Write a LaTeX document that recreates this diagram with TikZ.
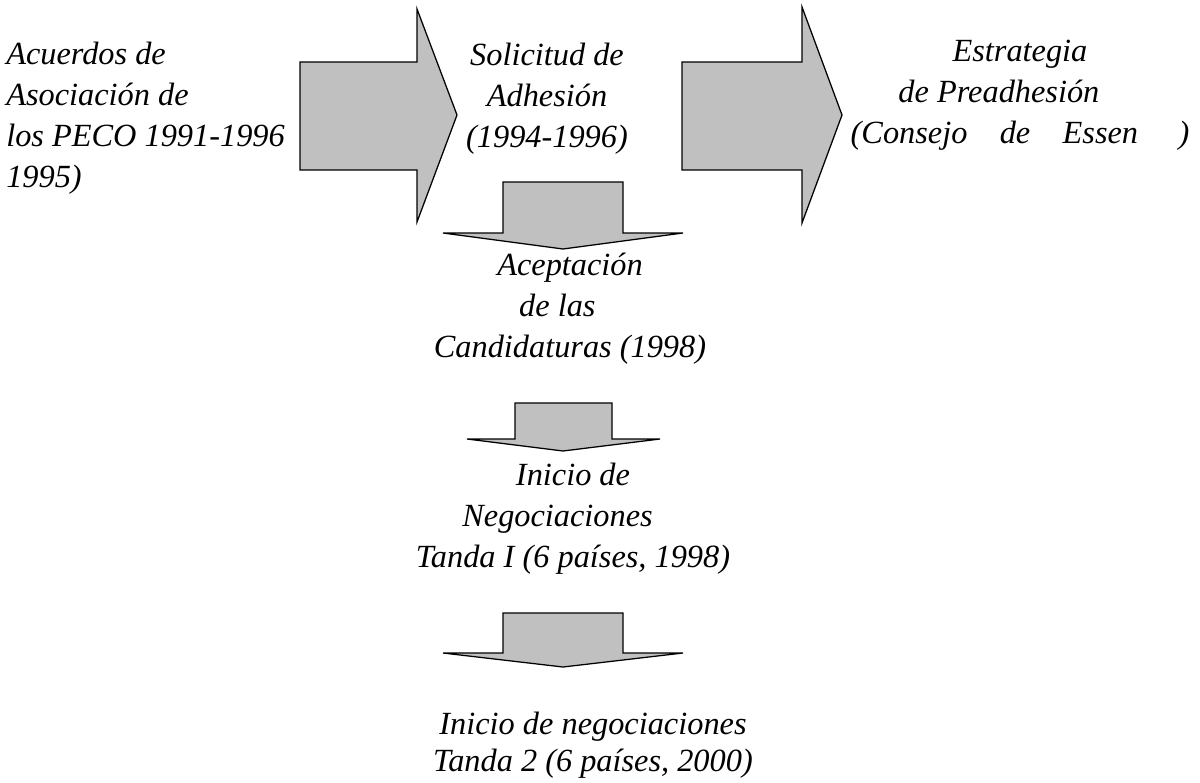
\documentclass[tikz,border=0pt]{standalone}
\usepackage{tikz}
\usepackage{fontspec}
\setmainfont{Liberation Serif}
\definecolor{arrowgray}{RGB}{192,192,192}

\begin{document}
\begin{tikzpicture}[x=0.025cm, y=-0.025cm,
blockarrow/.style={draw=black, fill=arrowgray, line width=0.9pt, line join=miter},
steptext/.style={font=\fontsize{23}{29}\selectfont\itshape, inner sep=0pt, align=center, anchor=base}]
\useasboundingbox (0,0) rectangle (1200,782);
% big arrows to the right
\draw[blockarrow] (300,62) -- (417,62) -- (417,9) -- (457,115) -- (417,222) -- (417,170) -- (300,170) -- cycle;
\draw[blockarrow] (682,62) -- (802,62) -- (802,7) -- (842,115) -- (802,223) -- (802,170) -- (682,170) -- cycle;
% small arrows down
\draw[blockarrow] (503,182) -- (623,182) -- (623,233) -- (683,233) -- (563,249) -- (443,233) -- (503,233) -- cycle;
\draw[blockarrow] (515,403) -- (612,403) -- (612,439) -- (660,439) -- (563,451) -- (467,439) -- (515,439) -- cycle;
\draw[blockarrow] (503,613) -- (623,613) -- (623,653) -- (683,653) -- (563,667) -- (443,653) -- (503,653) -- cycle;
% texts (anchored at the last line)
\node[steptext, align=left, anchor=base west] (acuerdos) at (6,187) {Acuerdos de\\Asociación de\\los PECO 1991-1996\\1995)};
\node[steptext] (solicitud) at (547,147) {Solicitud de\\Adhesión\\(1994-1996)};
\node[steptext] (estrategia) at (1020,143) {Estrategia\\\hbox{de Preadhesión\hspace{30pt}}\\(Consejo\quad de\quad Essen\quad\ )};
\node[steptext] (aceptacion) at (570,357) {Aceptación\\\hbox{de las\hspace{18pt}}\\Candidaturas (1998)};
\node[steptext] (inicio) at (573,567) {Inicio de\\\hbox{Negociaciones\hspace{22pt}}\\Tanda I (6 países, 1998)};
\node[steptext, font=\fontsize{23}{26}\selectfont\itshape] (tanda2) at (593,771) {Inicio de negociaciones\\Tanda 2 (6 países, 2000)};
\end{tikzpicture}
\end{document}
